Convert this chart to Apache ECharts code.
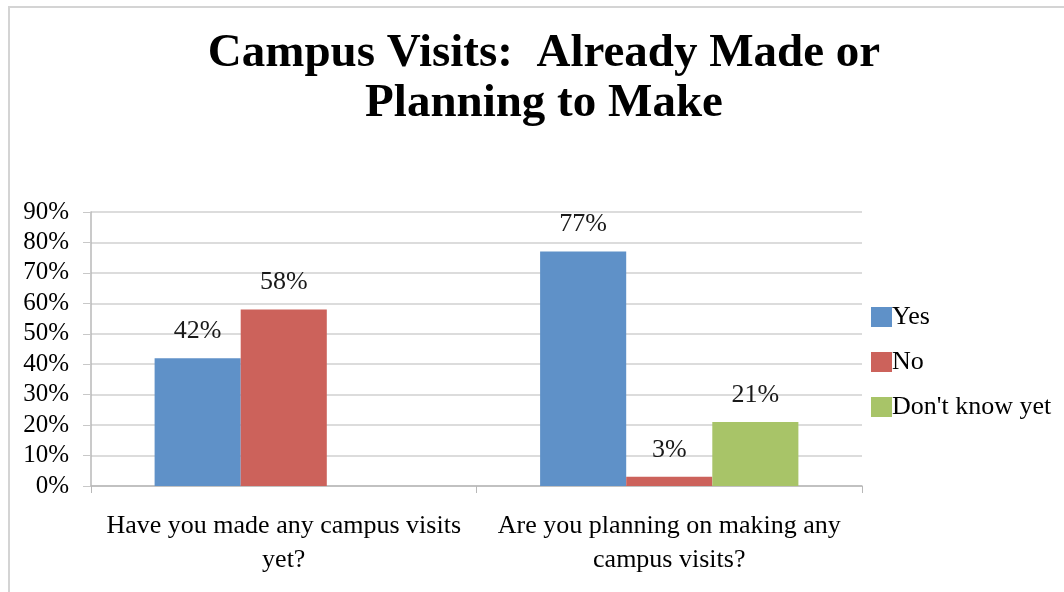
<!DOCTYPE html>
<html>
<head>
<meta charset="utf-8">
<script src="https://cdn.jsdelivr.net/npm/echarts@6/dist/echarts.min.js"></script>
<style>
  html, body { margin: 0; padding: 0; background: #fff; }
  #frame { position: absolute; left: 8px; top: 6px; width: 1070px; height: 600px; border: 2px solid #d4d4d4; box-sizing: border-box; }
  #chart { width: 1064px; height: 592px; }
</style>
</head>
<body>
<div id="frame"></div>
<div id="chart"></div>
<script>
const categories = ['Have you made any campus visits\nyet?', 'Are you planning on making any\ncampus visits?'];
const yesValues = [42, 77];
const noValues = [58, 3];
const dontKnowValues = [null, 21];
const yTicks = [0, 10, 20, 30, 40, 50, 60, 70, 80, 90];

const serif = '"Liberation Serif", "DejaVu Serif", serif';
const chart = echarts.init(document.getElementById('chart'));

const label = {
  show: true,
  position: 'top',
  distance: 14,
  fontFamily: serif,
  fontSize: 26,
  color: '#1a1a1a',
  formatter: p => p.value == null ? '' : p.value + '%'
};

function bar(name, data, color) {
  return {
    name, type: 'bar', data,
    barGap: '0%', barCategoryGap: '33%',
    itemStyle: { color },
    label
  };
}

chart.setOption({
  animation: false,
  title: {
    text: 'Campus Visits:  Already Made or\nPlanning to Make',
    left: 539, top: 24, textAlign: 'center',
    textStyle: { fontFamily: serif, fontWeight: 'bold', fontSize: 47, lineHeight: 50, color: '#000' }
  },
  legend: {
    orient: 'vertical',
    left: 866, top: 297,
    itemWidth: 21, itemHeight: 20, itemGap: 15,
    icon: 'rect',
    textStyle: { fontFamily: serif, fontSize: 26, lineHeight: 30, color: '#000', padding: [0, 0, 0, -5] },
    data: ['Yes', 'No', "Don't know yet"]
  },
  grid: { left: 91, right: 202, top: 212, bottom: 106, containLabel: false },
  xAxis: {
    type: 'category',
    data: categories,
    axisLine: { lineStyle: { color: '#b8b8b8', width: 1.5 } },
    axisTick: { show: true, interval: 0, length: 7, lineStyle: { color: '#b8b8b8' } },
    axisLabel: { interval: 0, hideOverlap: false, fontFamily: serif, fontSize: 26, lineHeight: 34, color: '#000', margin: 23 }
  },
  yAxis: {
    type: 'value',
    min: yTicks[0], max: yTicks[yTicks.length - 1], interval: 10,
    axisLine: { show: true, lineStyle: { color: '#b8b8b8', width: 1.5 } },
    axisTick: { show: true, length: 8, lineStyle: { color: '#c8c8c8' } },
    splitLine: { lineStyle: { color: '#d0d0d0', width: 1.5 } },
    axisLabel: { fontFamily: serif, fontSize: 25, color: '#000', margin: 22, formatter: v => v + '%' }
  },
  series: [
    bar('Yes', yesValues, '#5f91c8'),
    bar('No', noValues, '#cc625b'),
    bar("Don't know yet", dontKnowValues, '#a8c468')
  ]
});
</script>
</body>
</html>
